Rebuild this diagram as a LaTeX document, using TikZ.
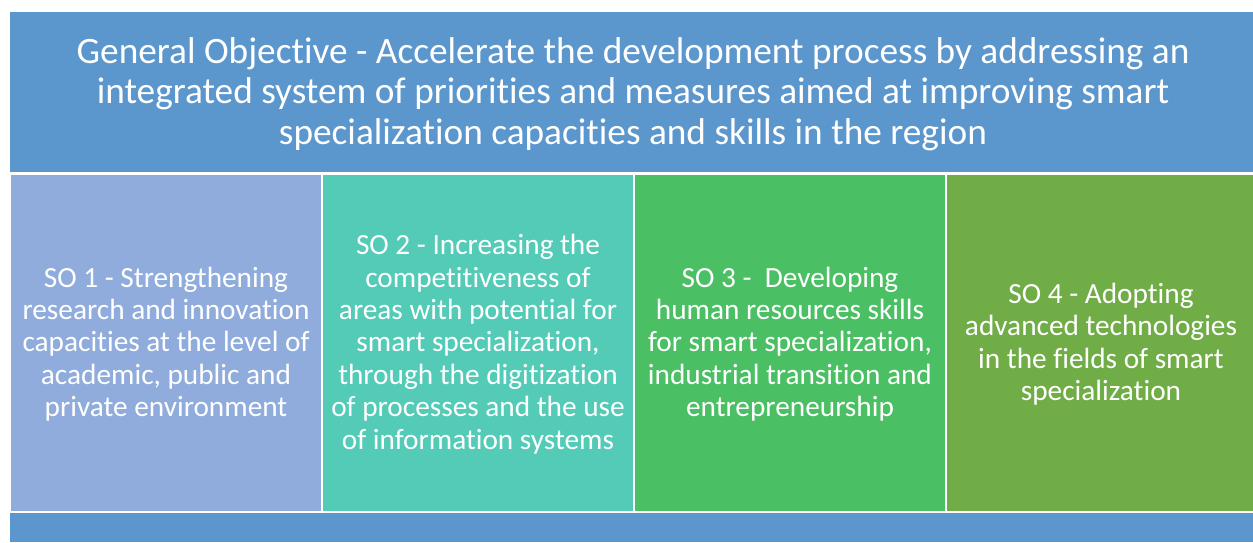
\documentclass[tikz,border=0pt]{standalone}
\usepackage{fontspec}
\setmainfont[Ligatures=NoCommon]{Carlito}
\definecolor{topblue}{HTML}{5B96CC}
\definecolor{soone}{HTML}{8FACDC}
\definecolor{sotwo}{HTML}{53CBB7}
\definecolor{sothree}{HTML}{4ABF63}
\definecolor{sofour}{HTML}{70AD47}
\begin{document}
\begin{tikzpicture}[x=1pt,y=-1pt,
  box/.style={draw=none,inner sep=0pt,anchor=north west},
  titletext/.style={text=white,align=center,font=\fontsize{37.3}{40.5}\selectfont},
  sotext/.style={text=white,align=center,font=\fontsize{29.3}{32.4}\selectfont}]
\useasboundingbox (0,0) rectangle (1253,542);
\fill[white] (0,0) rectangle (1253,542);
% top box
\fill[topblue] (10,12) rectangle (1253,172);
\node[titletext] (title) at (633,94) {General Objective - Accelerate the development process by addressing an\\integrated system of priorities and measures aimed at improving smart\\specialization capacities and skills in the region};
% columns
\fill[soone] (11,175) rectangle (321,511);
\fill[sotwo] (323,175) rectangle (633,511);
\fill[sothree] (635,175) rectangle (945,511);
\fill[sofour] (947,175) rectangle (1253,511);
\node[sotext] (so1) at (166,344) {SO 1 - Strengthening\\research and innovation\\capacities at the level of\\academic, public and\\private environment};
\node[sotext] (so2) at (478,344) {SO 2 - Increasing the\\competitiveness of\\areas with potential for\\smart specialization,\\through the digitization\\of processes and the use\\of information systems};
\node[sotext] (so3) at (790,344) {SO 3 - \ Developing\\human resources skills\\for smart specialization,\\industrial transition and\\entrepreneurship};
\node[sotext] (so4) at (1101,344) {SO 4 - Adopting\\advanced technologies\\in the fields of smart\\specialization};
% bottom strip
\fill[topblue] (10,513) rectangle (1253,542);
\end{tikzpicture}
\end{document}
